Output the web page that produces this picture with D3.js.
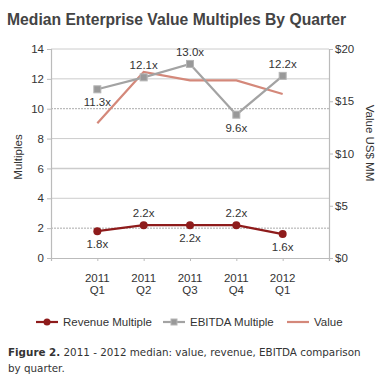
<!DOCTYPE html>
<html><head><meta charset="utf-8">
<script src="https://cdn.jsdelivr.net/npm/d3@7"></script>
<style>
body{margin:0;background:#fff;}
svg text{font-family:"Liberation Sans",Arial,sans-serif;}
</style></head>
<body><svg id="c" width="380" height="390"></svg>
<script>
const quarters = ["2011 Q1","2011 Q2","2011 Q3","2011 Q4","2012 Q1"];
const revenue = [1.8, 2.2, 2.2, 2.2, 1.6];
const ebitda = [11.3, 12.1, 13.0, 9.6, 12.2];
const value = [12.9, 17.8, 17.0, 17.0, 15.7];
const leftTicks = [0,2,4,6,8,10,12,14];
const rightTicks = [0,5,10,15,20];
const revLabelPos = ["below","above","below","above","below"];
const ebLabelPos = ["below","above","above","below","above"];

const svg = d3.select("#c");
const L = 51, R = 329, T = 49, B = 258;
const x = d3.scaleLinear().domain([-1, quarters.length]).range([L, R]);
const y = d3.scaleLinear().domain([0,14]).range([B,T]);
const y2 = d3.scaleLinear().domain([0,20]).range([B,T]);

svg.append("text").attr("x",7).attr("y",25).text("Median Enterprise Value Multiples By Quarter")
  .attr("font-size",15.7).attr("font-weight","bold").attr("fill","#444");

// gridlines
const dashed = new Set([2,10]);
svg.append("g").selectAll("line").data(leftTicks.filter(d=>d>0)).join("line")
  .attr("x1",L).attr("x2",R).attr("y1",d=>y(d)).attr("y2",d=>y(d))
  .attr("stroke", d=>dashed.has(d)?"#aaa":"#ccc")
  .attr("stroke-width", d=>d===6?1.6:1)
  .attr("stroke-dasharray", d=>dashed.has(d)?"2,1":null);

// axes
const gl = svg.append("g").attr("transform",`translate(${L},0)`)
  .call(d3.axisLeft(y).tickValues(leftTicks).tickSize(4).tickPadding(3));
const gr = svg.append("g").attr("transform",`translate(${R},0)`)
  .call(d3.axisRight(y2).tickValues(rightTicks).tickSize(4).tickPadding(2).tickFormat(d=>"$"+d));
const gb = svg.append("g").attr("transform",`translate(0,${B})`)
  .call(d3.axisBottom(x).tickValues(d3.range(-1, quarters.length+1)).tickSize(3).tickFormat(""));
[gl,gr,gb].forEach(g=>{
  g.select(".domain").attr("stroke","#bbb").attr("stroke-width",1.2);
  g.selectAll(".tick line").attr("stroke","#bbb");
  g.selectAll(".tick text").attr("font-size",11.5).attr("fill","#333").attr("font-family","Liberation Sans,Arial,sans-serif");
});
gb.selectAll(".tick").filter(d=>d<0||d>=quarters.length).select("line").remove();
// x labels
quarters.forEach((q,i)=>{
  const parts = q.split(" ");
  const t = svg.append("text").attr("x",x(i)).attr("text-anchor","middle").attr("font-size",11.5).attr("fill","#333");
  t.append("tspan").attr("x",x(i)).attr("y",282).text(parts[0]);
  t.append("tspan").attr("x",x(i)).attr("y",294).text(parts[1]);
});

svg.append("text").attr("transform",`translate(22,157) rotate(-90)`).attr("text-anchor","middle")
  .attr("font-size",11.5).attr("fill","#333").text("Multiples");
svg.append("text").attr("transform",`translate(366,143) rotate(90)`).attr("text-anchor","middle")
  .attr("font-size",11.5).attr("fill","#333").text("Value US$ MM");

const revColor = "#8e1b1b", ebColor = "#a3a3a3", valColor = "#d4887a";
const idx = d3.range(quarters.length);
// value line
svg.append("path").datum(idx).attr("fill","none").attr("stroke",valColor).attr("stroke-width",2.2)
  .attr("d", d3.line().x(i=>x(i)).y(i=>y2(value[i])));
// ebitda
svg.append("path").datum(idx).attr("fill","none").attr("stroke",ebColor).attr("stroke-width",2.2)
  .attr("d", d3.line().x(i=>x(i)).y(i=>y(ebitda[i])));
svg.append("g").selectAll("rect").data(idx).join("rect")
  .attr("x",i=>x(i)-3.5).attr("y",i=>y(ebitda[i])-3.5).attr("width",7).attr("height",7)
  .attr("fill","#999").attr("stroke","#b5b5b5").attr("stroke-width",1);
// revenue
svg.append("path").datum(idx).attr("fill","none").attr("stroke",revColor).attr("stroke-width",2.2)
  .attr("d", d3.line().x(i=>x(i)).y(i=>y(revenue[i])));
svg.append("g").selectAll("circle").data(idx).join("circle")
  .attr("cx",i=>x(i)).attr("cy",i=>y(revenue[i])).attr("r",4).attr("fill",revColor);

// data labels
function labels(arr,pos){
  svg.append("g").selectAll("text").data(idx).join("text")
    .attr("x",i=>x(i)).attr("y",i=>y(arr[i]) + (pos[i]==="above"? -8 : 17))
    .attr("text-anchor","middle").attr("font-size",11.5).attr("fill","#333")
    .text(i=>arr[i].toFixed(1)+"x");
}
labels(ebitda, ebLabelPos);
labels(revenue, revLabelPos);

// legend
const lg = svg.append("g");
const items = [
  {name:"Revenue Multiple", color:revColor, mark:"circle", x:36},
  {name:"EBITDA Multiple", color:ebColor, mark:"rect", x:163},
  {name:"Value", color:valColor, mark:null, x:287}
];
items.forEach(it=>{
  const ly = 322;
  lg.append("line").attr("x1",it.x).attr("x2",it.x+22).attr("y1",ly).attr("y2",ly)
    .attr("stroke",it.color).attr("stroke-width",2.2);
  if(it.mark==="circle") lg.append("circle").attr("cx",it.x+11).attr("cy",ly).attr("r",3.5).attr("fill",it.color);
  if(it.mark==="rect") lg.append("rect").attr("x",it.x+8).attr("y",ly-3).attr("width",6).attr("height",6).attr("fill","#999").attr("stroke","#b5b5b5");
  lg.append("text").attr("x",it.x+27).attr("y",ly+4).attr("font-size",11.5).attr("fill","#333").text(it.name);
});

// caption
const cap = svg.append("text").attr("x",8).attr("y",356).attr("font-size",10.35).attr("fill","#333")
  .style("font-family","'DejaVu Sans',Verdana,sans-serif");
cap.append("tspan").attr("font-weight","bold").text("Figure 2.");
cap.append("tspan").text(" 2011 - 2012 median: value, revenue, EBITDA comparison");
svg.append("text").attr("x",8).attr("y",372).attr("font-size",10.35).attr("fill","#333")
  .style("font-family","'DejaVu Sans',Verdana,sans-serif").text("by quarter.");
</script></body></html>
